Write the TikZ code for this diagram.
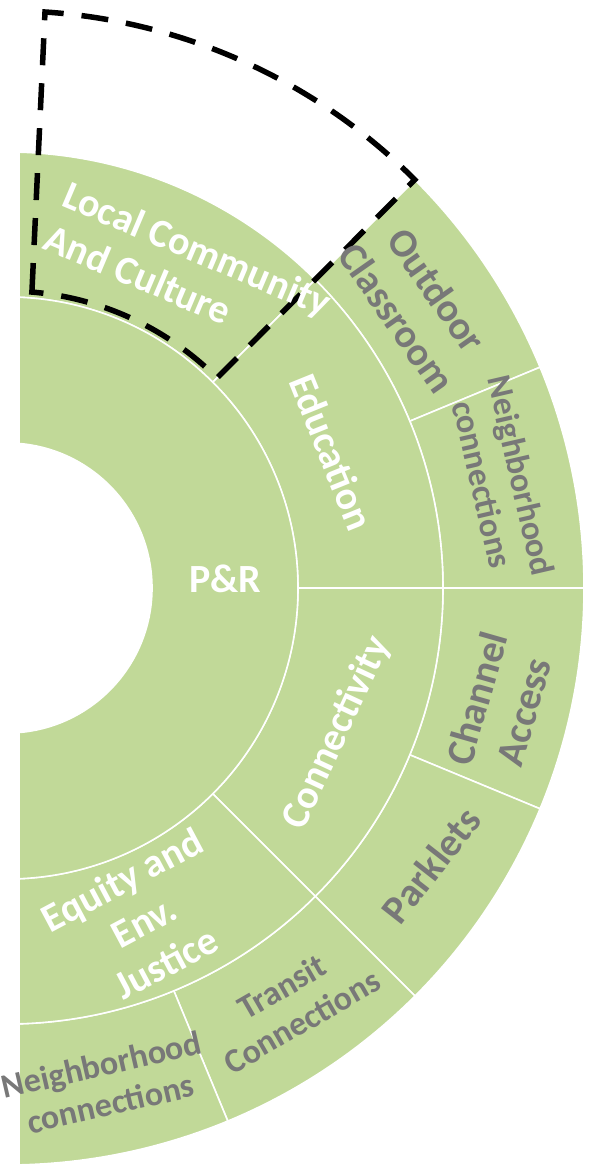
\documentclass[tikz,border=0pt]{standalone}
\usepackage{fontspec}
\setmainfont{Carlito}
\definecolor{ringgreen}{RGB}{193,217,152}
\definecolor{subgray}{RGB}{120,120,120}
\tikzset{
  seg/.style={fill=ringgreen, draw=white, line width=1.6pt},
  mainlbl/.style={text=white, font=\bfseries\fontsize{40}{47}\selectfont, inner sep=0pt, align=center},
  sublbl/.style={text=subgray, font=\bfseries\fontsize{40}{49}\selectfont, inner sep=0pt, align=center},
  sublblsm/.style={sublbl, font=\bfseries\fontsize{34}{40}\selectfont},
  hilite/.style={draw=black, line width=5.5pt, dash pattern=on 27pt off 18pt}
}
\begin{document}
\begin{tikzpicture}[x=1pt,y=1pt]
  \useasboundingbox (-7,-579) rectangle (585,588);
  \fill[white] (-7,-579) rectangle (585,588);
  \begin{scope}
    \clip (13,-579) rectangle (585,588);
    \foreach \a/\b in {22.5/45,0/22.5,-22.5/0,-45/-22.5,-67.5/-45,-100/-67.5}
      \draw[seg] (\a:436) arc[start angle=\a, end angle=\b, radius=436]
        -- (\b:577) arc[start angle=\b, end angle=\a, radius=577] -- cycle;
    \foreach \a/\b in {45/100,0/45,-45/0,-100/-45}
      \draw[seg] (\a:291) arc[start angle=\a, end angle=\b, radius=291]
        -- (\b:436) arc[start angle=\b, end angle=\a, radius=436] -- cycle;
    \draw[seg, even odd rule] (0,0) circle[radius=291] (0,0) circle[radius=145];
  \end{scope}
  \coordinate (dtl) at (38,576);
  \coordinate (dbl) at (25,298);
  \draw[hilite] (dbl) -- (dtl) arc[start angle=86.2, end angle=45, radius=577]
    -- (45:297) arc[start angle=45, end angle=85.2, radius=297] -- cycle;
  \node[mainlbl] (pr) at (218,9) {P\&R};
  \node[mainlbl, align=left, rotate=-23] (local) at (181,318) {Local Community\\And Culture};
  \node[mainlbl, rotate=-68] (edu) at (325,136) {Education};
  \node[mainlbl, rotate=65] (conn) at (330,-145) {Connectivity};
  \node[mainlbl, rotate=28] (equity) at (137,-333) {Equity and\\Env.\\Justice};
  \node[sublbl, rotate=-55] (outdoor) at (410,284) {Outdoor\\Classroom};
  \node[sublblsm, rotate=-77] (nbhdA) at (495,108) {Neighborhood\\connections};
  \node[sublbl, rotate=74] (channel) at (493,-117) {Channel\\Access};
  \node[sublbl, rotate=52] (parklets) at (424,-277) {Parklets};
  \node[sublblsm, rotate=30] (transit) at (285,-416) {Transit\\Connections};
  \node[sublblsm, rotate=13] (nbhdB) at (99,-496) {Neighborhood\\connections};
\end{tikzpicture}
\end{document}
